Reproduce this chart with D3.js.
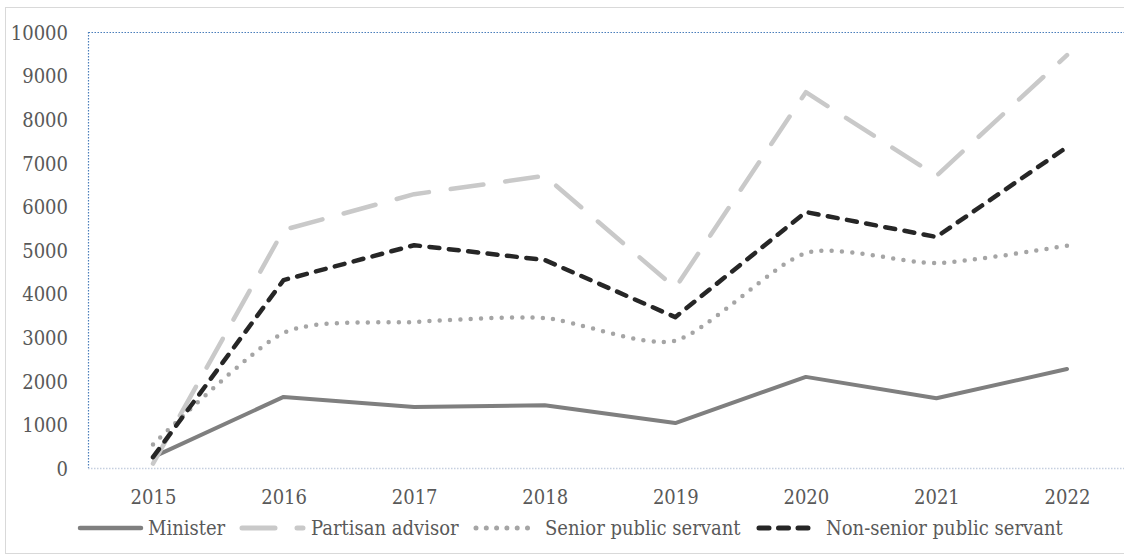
<!DOCTYPE html>
<html><head><meta charset="utf-8">
<script src="https://cdn.jsdelivr.net/npm/d3@7"></script>
<style>body{margin:0;background:#fff;} svg{display:block;}</style>
</head><body>
<svg id="c" width="1124" height="560"></svg>
<script>
const years = ["2015","2016","2017","2018","2019","2020","2021","2022"];
const minister = [250,1630,1400,1440,1030,2090,1600,2270];
const partisan = [100,5460,6280,6700,4130,8620,6700,9470];
const senior = [540,3100,3350,3440,2920,4930,4700,5100];
const nonSenior = [250,4310,5110,4770,3460,5870,5300,7360];
const yTicks = [0,1000,2000,3000,4000,5000,6000,7000,8000,9000,10000];

const series = [
  {name:"Minister", values:minister, color:"#7f7f7f", width:4, dash:null, cap:"round", curve:d3.curveLinear},
  {name:"Partisan advisor", values:partisan, color:"#c9c9c9", width:4.5, dash:"33,22", cap:"round", curve:d3.curveLinear},
  {name:"Senior public servant", values:senior, color:"#a5a5a5", width:4.5, dash:"0,10.3", cap:"round", curve:d3.curveCardinal.tension(0.3)},
  {name:"Non-senior public servant", values:nonSenior, color:"#262626", width:4.5, dash:"10,9.5", cap:"round", curve:d3.curveLinear}
];

const svg = d3.select("#c");
const font = "DejaVu Serif Condensed, DejaVu Serif, serif";
const pLeft = 88, pTop = 32, pBottom = 468;
const x = d3.scalePoint().domain(years).range([153,1067]);
const y = d3.scaleLinear().domain([0,10000]).range([pBottom, pTop]);

svg.append("rect").attr("x",5.5).attr("y",7.5).attr("width",1130).attr("height",546)
  .attr("fill","none").attr("stroke","#d9d9d9").attr("stroke-width",1);

svg.append("line").attr("x1",pLeft+0.5).attr("x2",1124).attr("y1",pTop+0.5).attr("y2",pTop+0.5)
  .attr("stroke","#4a7ebb").attr("stroke-width",1.2).attr("stroke-dasharray","1.5,1.5");
svg.append("line").attr("x1",pLeft+0.5).attr("x2",pLeft+0.5).attr("y1",pTop).attr("y2",pBottom)
  .attr("stroke","#4a7ebb").attr("stroke-width",1.2).attr("stroke-dasharray","1.5,1.5");

const yAxis = d3.axisLeft(y).tickValues(yTicks).tickSize(0).tickPadding(0).tickFormat(d3.format("d"));
const ya = svg.append("g").attr("transform",`translate(68,0)`).call(yAxis);
ya.select(".domain").remove();
ya.selectAll("text").attr("font-family",font).attr("font-size",20).attr("fill","#595959").attr("dy","0.36em");

const xAxis = d3.axisBottom(x).tickSize(0).tickPadding(0);
const xa = svg.append("g").attr("transform",`translate(0,${pBottom})`).call(xAxis);
xa.select(".domain").attr("d",`M${pLeft},0.5H1124`).attr("stroke","#c5cfdf").attr("stroke-width",1.5).attr("stroke-dasharray","1.5,1.5");
xa.selectAll("text").attr("font-family",font).attr("font-size",20).attr("fill","#595959").attr("dy","0").attr("y",36);

series.forEach(s => {
  const line = d3.line().x((d,i)=>x(years[i])).y(d=>y(d)).curve(s.curve);
  svg.append("path").datum(s.values).attr("d",line).attr("fill","none")
    .attr("stroke",s.color).attr("stroke-width",s.width).attr("stroke-linecap",s.cap)
    .attr("stroke-linejoin","round").attr("stroke-dasharray",s.dash);
});

const legendItems = [
  {s:series[0], x1:80, x2:141, tx:148},
  {s:series[1], x1:242, x2:303, tx:311},
  {s:series[2], x1:476, x2:532, tx:545},
  {s:series[3], x1:759, x2:810, tx:826}
];
const ly = 528;
legendItems.forEach(it => {
  svg.append("line").attr("x1",it.x1).attr("x2",it.x2).attr("y1",ly).attr("y2",ly)
    .attr("stroke",it.s.color).attr("stroke-width",it.s.width+0.5).attr("stroke-linecap",it.s.cap)
    .attr("stroke-dasharray",it.s.dash);
  svg.append("text").attr("x",it.tx).attr("y",ly).attr("dy","0.36em").text(it.s.name)
    .attr("font-family",font).attr("font-size",20).attr("fill","#595959");
});
</script>
</body></html>
